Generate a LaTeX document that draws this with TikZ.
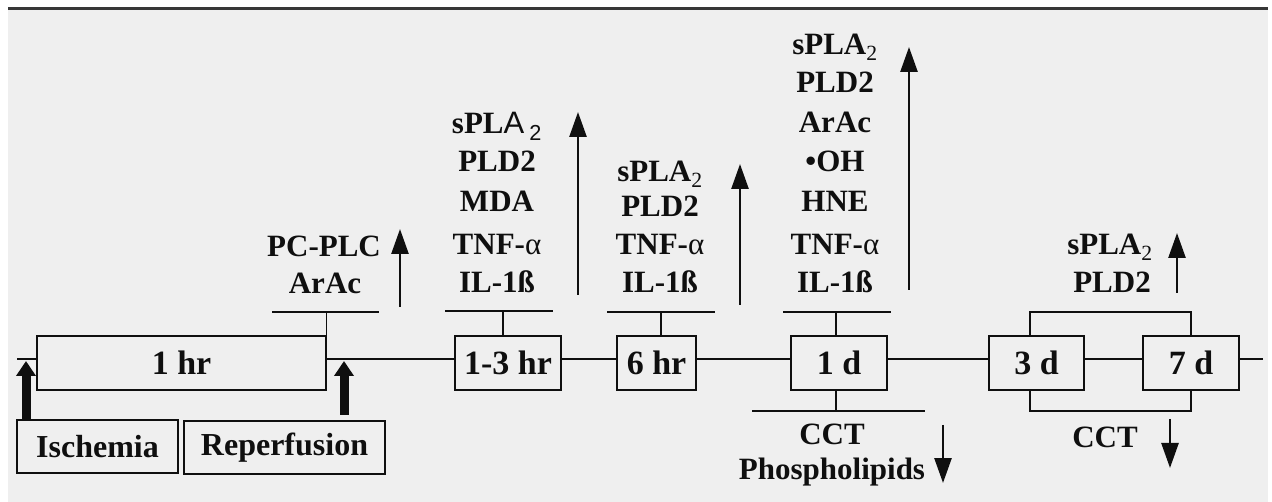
\documentclass[tikz,border=0pt]{standalone}
\usepackage{fontspec}
\setmainfont{Liberation Serif}
\newfontfamily\sansfam{Liberation Sans}
\usetikzlibrary{arrows.meta}
\definecolor{bg}{RGB}{239,239,239}
\definecolor{topline}{RGB}{55,55,55}
\definecolor{ink}{RGB}{15,15,15}
\newcommand{\spla}{sPLA\textsubscript{\mdseries 2}}
\newcommand{\splaB}{sPL{\mdseries\sansfam A}\,\textsubscript{\mdseries\sansfam 2}}
\newcommand{\alp}{{\mdseries α}}
\begin{document}
\begin{tikzpicture}[x=1pt,y=-1pt,
  every path/.style={color=ink},
  box/.style={draw=ink, line width=1.6pt, inner sep=0, text=ink,
    font=\bfseries\fontsize{34}{40}\selectfont},
  evbox/.style={draw=ink, line width=1.6pt, inner sep=0, text=ink,
    font=\bfseries\fontsize{32}{38}\selectfont},
  lbl/.style={inner sep=0, anchor=base, text=ink,
    font=\bfseries\fontsize{31}{36}\selectfont},
  conn/.style={line width=1.5pt},
  uparrow/.style={line width=2.6pt, -{Triangle[width=17pt,length=25pt]}},
  bigarrow/.style={line width=9pt, -{Triangle[width=19pt,length=15pt]}},
]
\useasboundingbox (0,0) rectangle (1272,502);
\fill[bg] (8,9) rectangle (1268,502);
\draw[line width=2.6pt, topline] (8,8.7) -- (1268,8.7);

% time boxes
\node[box, minimum width=289pt, minimum height=54pt] (h1)  at (181.5,363) {1 hr};
\node[box, minimum width=106pt, minimum height=54pt] (h13) at (508,363) {1-3 hr};
\node[box, minimum width=79pt,  minimum height=54pt] (h6)  at (656.5,363) {6 hr};
\node[box, minimum width=96pt,  minimum height=54pt] (d1)  at (839,363) {1 d};
\node[box, minimum width=95pt,  minimum height=54pt] (d3)  at (1036.5,363) {3 d};
\node[box, minimum width=96pt,  minimum height=54pt] (d7)  at (1191,363) {7 d};

% event boxes
\node[evbox, minimum width=161pt, minimum height=53pt] (isch) at (97.5,446.5) {Ischemia};
\node[evbox, minimum width=201pt, minimum height=53pt] (rep)  at (284.5,447.5) {Reperfusion};

% timeline
\coordinate (tl) at (0,359);
\coordinate (L) at (17,359);
\coordinate (R) at (1263,359);
\draw[conn] (L) -- (h1.west |- tl);
\draw[conn] (h1.east |- tl) -- (h13.west |- tl);
\draw[conn] (h13.east |- tl) -- (h6.west |- tl);
\draw[conn] (h6.east |- tl) -- (d1.west |- tl);
\draw[conn] (d1.east |- tl) -- (d3.west |- tl);
\draw[conn] (d3.east |- tl) -- (d7.west |- tl);
\draw[conn] (d7.east |- tl) -- (R);

% brackets above
\coordinate (b1l) at (272,312); \coordinate (b1r) at (379,312); \coordinate (b1s) at (326.5,312);
\draw[conn] (b1l) -- (b1r);
\draw[conn] (b1s) -- (b1s |- h1.north);
\coordinate (b2l) at (445,311); \coordinate (b2r) at (553,311); \coordinate (b2s) at (503,311);
\draw[conn] (b2l) -- (b2r);
\draw[conn] (b2s) -- (b2s |- h13.north);
\coordinate (b3l) at (607,312); \coordinate (b3r) at (715,312); \coordinate (b3s) at (661,312);
\draw[conn] (b3l) -- (b3r);
\draw[conn] (b3s) -- (b3s |- h6.north);
\coordinate (b4l) at (783,312); \coordinate (b4r) at (891,312); \coordinate (b4s) at (836,312);
\draw[conn] (b4l) -- (b4r);
\draw[conn] (b4s) -- (b4s |- d1.north);
% bracket below 1 d
\coordinate (c4l) at (752,411); \coordinate (c4r) at (925,411); \coordinate (c4s) at (836,411);
\draw[conn] (c4l) -- (c4r);
\draw[conn] (c4s) -- (c4s |- d1.south);
% brackets 3 d / 7 d
\coordinate (b5a) at (1030,312); \coordinate (b5b) at (1191,312);
\draw[conn] (b5a |- d3.north) -- (b5a) -- (b5b) -- (b5b |- d7.north);
\coordinate (c5a) at (1030,411); \coordinate (c5b) at (1191,411);
\draw[conn] (c5a |- d3.south) -- (c5a) -- (c5b) -- (c5b |- d7.south);

% thick event arrows
\coordinate (ia) at (26,361);
\draw[bigarrow] (ia |- isch.north) -- (ia);
\coordinate (ra0) at (344,415); \coordinate (ra1) at (344,361);
\draw[bigarrow] (ra0) -- (ra1);

% up / down arrows
\coordinate (u1a) at (400,307); \coordinate (u1b) at (400,229);
\draw[uparrow] (u1a) -- (u1b);
\coordinate (u2a) at (578,295); \coordinate (u2b) at (578,112);
\draw[uparrow] (u2a) -- (u2b);
\coordinate (u3a) at (740,305); \coordinate (u3b) at (740,164);
\draw[uparrow] (u3a) -- (u3b);
\coordinate (u4a) at (909,290); \coordinate (u4b) at (909,47);
\draw[uparrow] (u4a) -- (u4b);
\coordinate (u5a) at (1177,293); \coordinate (u5b) at (1177,233);
\draw[uparrow] (u5a) -- (u5b);
\coordinate (v1a) at (943,425); \coordinate (v1b) at (943,483);
\draw[uparrow] (v1a) -- (v1b);
\coordinate (v2a) at (1170,419); \coordinate (v2b) at (1170,468);
\draw[uparrow] (v2a) -- (v2b);

% labels: 1 hr
\node[lbl] (a1) at (324,257) {PC-PLC};
\node[lbl] (a2) at (325,294) {ArAc};
% labels: 1-3 hr
\node[lbl] (b1) at (497,134) {\splaB};
\node[lbl] (b2) at (497,172) {PLD2};
\node[lbl] (b3) at (497,212) {MDA};
\node[lbl] (b4) at (497,255) {TNF-\alp};
\node[lbl] (b5) at (497,293) {IL-1ß};
% labels: 6 hr
\node[lbl] (c1) at (660,182) {\spla};
\node[lbl] (c2) at (660,217) {PLD2};
\node[lbl] (c3) at (660,255) {TNF-\alp};
\node[lbl] (c4) at (660,293) {IL-1ß};
% labels: 1 d
\node[lbl] (d1a) at (835,55) {\spla};
\node[lbl] (d1b) at (835,93) {PLD2};
\node[lbl] (d1c) at (835,133) {ArAc};
\node[lbl] (d1d) at (835,172) {•OH};
\node[lbl] (d1e) at (835,212) {HNE};
\node[lbl] (d1f) at (835,255) {TNF-\alp};
\node[lbl] (d1g) at (835,293) {IL-1ß};
\node[lbl] (d1h) at (832,444) {CCT};
\node[lbl] (d1i) at (832,479) {Phospholipids};
% labels: 3 d / 7 d
\node[lbl] (e1) at (1110,255) {\spla};
\node[lbl] (e2) at (1112,293) {PLD2};
\node[lbl] (e3) at (1105,447) {CCT};
\end{tikzpicture}
\end{document}
